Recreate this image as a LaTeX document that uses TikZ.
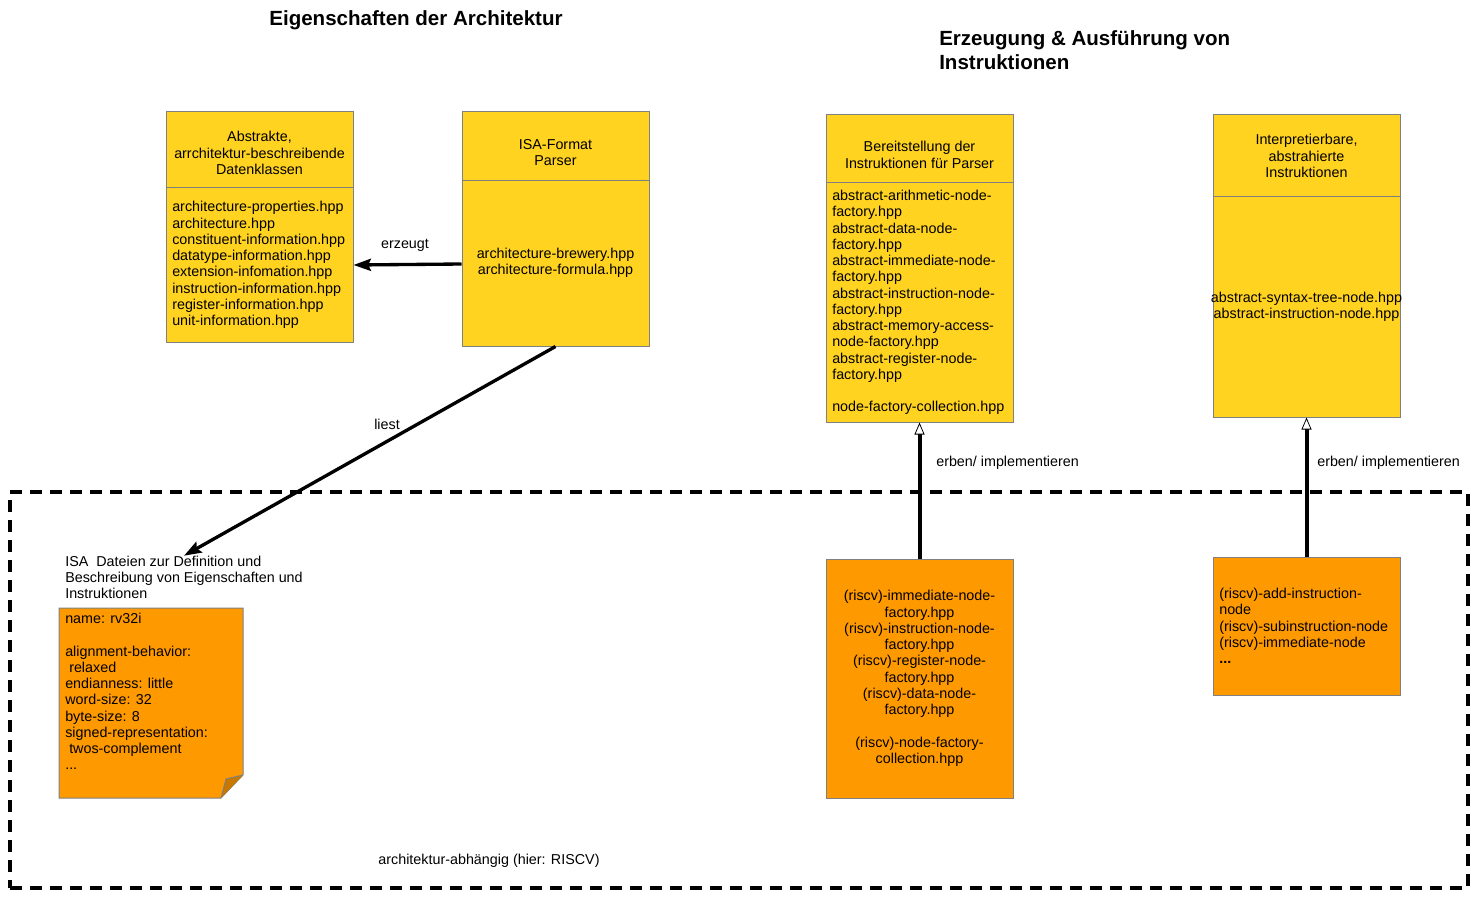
\documentclass[tikz,border=0pt]{standalone}
\usepackage{fontspec}
\setmainfont{Liberation Sans}
\usetikzlibrary{arrows.meta,fit,positioning}
\definecolor{classyellow}{HTML}{FFD320}
\definecolor{implorange}{HTML}{FF9900}
\definecolor{folddark}{HTML}{C87800}
\definecolor{frameline}{HTML}{808080}
\tikzset{
  % yellow class box with thin gray frame
  cls/.style = {
    draw = frameline,
    fill = classyellow,
    line width = 0.75pt,
    inner sep = 0
  },
  % orange box for architecture specific files
  impl/.style = {
    cls,
    fill = implorange
  },
  % divider between header and body of a box
  divider/.style = {
    draw = frameline,
    line width = 0.75pt
  },
  % plain text
  txt/.style = {
    inner sep = 0,
    font = \fontsize{10.75}{12.2}\selectfont
  },
  % section heading
  heading/.style = {
    inner sep = 0,
    font = \fontsize{15.4}{18}\selectfont\bfseries
  },
  % thick black connector with filled tip
  conn/.style = {
    draw = black,
    line width = 2.5pt,
    -{Stealth[length = 13pt, width = 9pt, inset = 2pt]}
  },
  % inheritance connector with open tip
  inherit/.style = {
    draw = black,
    line width = 3pt,
    -{Triangle[open, fill = white, line width = 0.6pt, length = 9pt, width = 7.5pt]}
  },
  % dashed frame around the architecture dependent part
  region/.style = {
    draw = black,
    line width = 3pt,
    dash pattern = on 9pt off 6pt,
    inner sep = 0
  }
}

\begin{document}
\begin{tikzpicture}[x = 0.75pt, y = -0.75pt]
    \useasboundingbox (0,0) rectangle (1480,902);

    % headings
    \node[heading] (arch title) at (416,20) {Eigenschaften der Architektur};
    \node[heading, anchor = west, align = left] (instr title) at (939,50)
      {Erzeugung \& Ausführung von\\Instruktionen};

    % dashed frame
    \node[region, fit = {(10,492) (1468,888)}] (riscv) {};
    \node[txt] (riscv label) at (489,861) {architektur-abhängig (hier: RISCV)};

    % abstract data classes
    \node[cls, fit = {(166,112) (353,342)}] (absdata) {};
    \draw[divider] (absdata.west |- 0,188) -- (absdata.east |- 0,188);
    \node[txt, align = center] (absdata head) at (259.5,153)
      {Abstrakte,\\arrchitektur-beschreibende\\Datenklassen};
    \node[txt, align = left, anchor = west] (absdata body) at (172,265)
      {architecture-properties.hpp\\architecture.hpp\\constituent-information.hpp\\
       datatype-information.hpp\\extension-infomation.hpp\\instruction-information.hpp\\
       register-information.hpp\\unit-information.hpp};

    % parser
    \node[cls, fit = {(462,112) (649,346)}] (parser) {};
    \draw[divider] (parser.west |- 0,181) -- (parser.east |- 0,181);
    \node[txt, align = center] (parser head) at (555.5,152.5) {ISA-Format\\Parser};
    \node[txt, align = center] (parser body) at (555.5,263)
      {architecture-brewery.hpp\\architecture-formula.hpp};

    % node factories
    \node[cls, fit = {(826,115) (1013,422)}] (factory) {};
    \draw[divider] (factory.west |- 0,183) -- (factory.east |- 0,183);
    \node[txt, align = center] (factory head) at (919.5,155)
      {Bereitstellung der\\Instruktionen für Parser};
    \node[txt, align = left, anchor = west] (factory body) at (832,302.5)
      {abstract-arithmetic-node-\\factory.hpp\\abstract-data-node-\\factory.hpp\\
       abstract-immediate-node-\\factory.hpp\\abstract-instruction-node-\\factory.hpp\\
       abstract-memory-access-\\node-factory.hpp\\abstract-register-node-\\factory.hpp\\[12.2pt]
       node-factory-collection.hpp};

    % abstract instructions
    \node[cls, fit = {(1213,115) (1400,417)}] (instr) {};
    \draw[divider] (instr.west |- 0,197) -- (instr.east |- 0,197);
    \node[txt, align = center] (instr head) at (1306.5,156)
      {Interpretierbare,\\abstrahierte\\Instruktionen};
    \node[txt, align = center] (instr body) at (1306.5,307)
      {abstract-syntax-tree-node.hpp\\abstract-instruction-node.hpp};

    % isa file note
    \node[txt, align = left, anchor = west] (isa label) at (65,577.5)
      {ISA\ \ Dateien zur Definition und\\Beschreibung von Eigenschaften und\\Instruktionen};
    \draw[cls, fill = implorange]
      (59,608) -- (243,608) -- (243,775) -- (221,798) -- (59,798) -- cycle;
    \fill[folddark] (243,775) -- (226,779) -- (221,798) -- cycle;
    \draw[frameline, line width = 0.75pt] (243,775) -- (226,779) -- (221,798);
    \node[txt, align = left, anchor = west] (isa body) at (65,691.5)
      {name: rv32i\\[12.2pt]alignment-behavior:\\\ relaxed\\endianness: little\\
       word-size: 32\\byte-size: 8\\signed-representation:\\\ twos-complement\\...};

    % riscv factories
    \node[impl, fit = {(826,559) (1013,798)}] (factimpl) {};
    \node[txt, align = center] (factimpl body) at (919.5,678.5)
      {(riscv)-immediate-node-\\factory.hpp\\(riscv)-instruction-node-\\factory.hpp\\
       (riscv)-register-node-\\factory.hpp\\(riscv)-data-node-\\factory.hpp\\[12.2pt]
       (riscv)-node-factory-\\collection.hpp};

    % riscv instructions
    \node[impl, fit = {(1213,557) (1400,695)}] (instimpl) {};
    \node[txt, align = left, anchor = west] (instimpl body) at (1219,626)
      {(riscv)-add-instruction-\\node\\(riscv)-subinstruction-node\\(riscv)-immediate-node\\
       \textbf{...}};

    % connectors
    \draw[conn] (parser.west |- 0,264) -- (absdata.east |- 0,265);
    \node[txt] (erzeugt) at (405,245) {erzeugt};

    \draw[conn] (parser.south) -- (isa label.north);
    \node[txt] (liest) at (387,424) {liest};

    \draw[inherit] (factimpl.north) -- (factory.south);
    \node[txt, anchor = west] (factory erben) at (936,463) {erben/ implementieren};

    \draw[inherit] (instimpl.north) -- (instr.south);
    \node[txt, anchor = west] (instr erben) at (1317,463) {erben/ implementieren};
\end{tikzpicture}
\end{document}
